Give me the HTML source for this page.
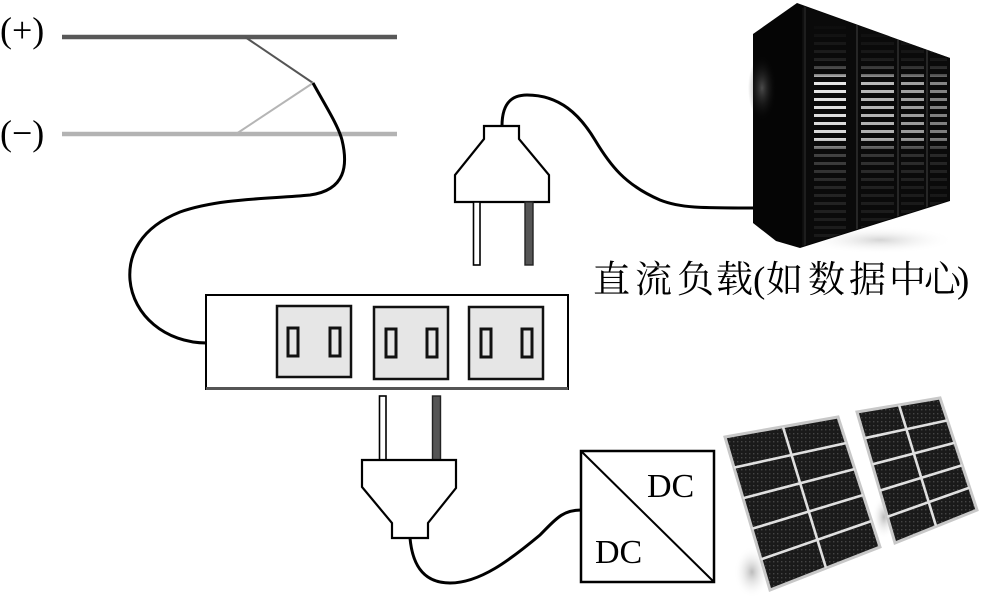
<!DOCTYPE html>
<html>
<head>
<meta charset="utf-8">
<style>
html,body{margin:0;padding:0;background:#fff;}
svg{display:block;}
</style>
</head>
<body>
<svg width="1000" height="610" viewBox="0 0 1000 610" xmlns="http://www.w3.org/2000/svg">
  <defs>
    <pattern id="sp" patternUnits="userSpaceOnUse" width="60" height="8" y="2">
      <rect x="0" y="0" width="60" height="3" fill="#fff"/>
    </pattern>
    <linearGradient id="vg" x1="0" y1="0" x2="0" y2="1">
      <stop offset="0" stop-color="#000"/>
      <stop offset="0.18" stop-color="#1a1a1a"/>
      <stop offset="0.24" stop-color="#666"/>
      <stop offset="0.27" stop-color="#fff"/>
      <stop offset="0.54" stop-color="#eee"/>
      <stop offset="0.6" stop-color="#444"/>
      <stop offset="0.75" stop-color="#222"/>
      <stop offset="1" stop-color="#111"/>
    </linearGradient>
    <mask id="m" maskUnits="userSpaceOnUse" x="700" y="0" width="300" height="260">
      <rect x="700" y="20" width="300" height="220" fill="url(#vg)"/>
    </mask>
    <clipPath id="front">
      <polygon points="803,6 950,58 950,200 803,246"/>
    </clipPath>
    <radialGradient id="sideHi" cx="0.5" cy="0.5" r="0.5">
      <stop offset="0" stop-color="#7a7a7a"/>
      <stop offset="1" stop-color="#111" stop-opacity="0"/>
    </radialGradient>
    <radialGradient id="shadow" cx="0.5" cy="0.5" r="0.5">
      <stop offset="0" stop-color="#aaa"/>
      <stop offset="1" stop-color="#fff" stop-opacity="0"/>
    </radialGradient>
    <pattern id="dots" patternUnits="userSpaceOnUse" width="4" height="4">
      <rect width="4" height="4" fill="#1a1a1a"/>
      <rect x="1" y="1" width="1.4" height="1.4" fill="#444"/>
    </pattern>
  </defs>

  <!-- Bus lines -->
  <text x="0" y="42" font-family="Liberation Serif, serif" font-size="36" fill="#000">(+)</text>
  <text x="0" y="145" font-family="Liberation Serif, serif" font-size="36" fill="#000">(−)</text>
  <line x1="62" y1="37" x2="397" y2="37" stroke="#585858" stroke-width="4.5"/>
  <line x1="62" y1="134" x2="397" y2="134" stroke="#b3b3b3" stroke-width="4.5"/>
  <line x1="245" y1="37" x2="313" y2="83" stroke="#555" stroke-width="2"/>
  <line x1="236" y1="134" x2="313" y2="83" stroke="#b5b5b5" stroke-width="2"/>

  <!-- main cable from bus to strip -->
  <path d="M313,83 C325,105 338,125 342,140 C348,165 346,190 310,195 C270,199 220,198 180,212 C140,228 128,255 130,280 C133,315 165,343 207,343" fill="none" stroke="#000" stroke-width="3"/>

  <!-- Power strip -->
  <rect x="206" y="295" width="362" height="94" fill="#fff" stroke="#000" stroke-width="2"/>
  <line x1="206" y1="388.5" x2="568" y2="388.5" stroke="#555" stroke-width="3"/>
  <g fill="#e6e6e6" stroke="#111" stroke-width="2.5">
    <rect x="277" y="306" width="74" height="71"/>
    <rect x="374" y="307" width="74" height="72"/>
    <rect x="469" y="307" width="74" height="72"/>
  </g>
  <g fill="#e6e6e6" stroke="#111" stroke-width="3">
    <rect x="288" y="328" width="10" height="28"/>
    <rect x="330" y="328" width="10" height="28"/>
    <rect x="386" y="329" width="10" height="28"/>
    <rect x="427" y="329" width="10" height="28"/>
    <rect x="481" y="329" width="10" height="28"/>
    <rect x="522" y="329" width="10" height="28"/>
  </g>

  <!-- Lower plug -->
  <rect x="379.5" y="396" width="6.5" height="65" fill="#fff" stroke="#000" stroke-width="1.6"/>
  <rect x="432.5" y="396" width="8" height="65" fill="#555" stroke="#222" stroke-width="1.4"/>
  <polygon points="362,460 456,460 456,488 428,523 428,538 392,538 392,523 362,487" fill="#fff" stroke="#000" stroke-width="2.2"/>
  <path d="M410,538 C412,560 420,583 450,583 C480,583 510,560 540,535 C555,520 562,510 581,510" fill="none" stroke="#000" stroke-width="3"/>

  <!-- DC/DC converter -->
  <rect x="581" y="451" width="133" height="131" fill="#fff" stroke="#000" stroke-width="2.5"/>
  <line x1="581" y1="451" x2="714" y2="582" stroke="#000" stroke-width="2"/>
  <text x="647" y="497" font-family="Liberation Serif, serif" font-size="34" fill="#000">DC</text>
  <text x="595" y="563" font-family="Liberation Serif, serif" font-size="34" fill="#000">DC</text>

  <!-- Upper plug -->
  <path d="M502,126 C502,105 510,95 527,95 C560,95 580,115 595,140 C610,165 625,185 660,200 C680,208 700,208 755,208" fill="none" stroke="#000" stroke-width="3"/>
  <polygon points="484,126 519,126 519,139 549,175 549,202 455,202 455,175 484,139" fill="#fff" stroke="#000" stroke-width="2.2"/>
  <rect x="473.5" y="202" width="6.5" height="63" fill="#fff" stroke="#000" stroke-width="1.6"/>
  <rect x="525" y="202" width="8" height="63" fill="#555" stroke="#222" stroke-width="1.4"/>

  <!-- Server -->
  <ellipse cx="880" cy="240" rx="75" ry="14" fill="url(#shadow)" opacity="0.5"/>
  <polygon points="753,34 797,3 950,58 950,201 800,248 776,241 753,223" fill="#050505"/>
  <ellipse cx="762" cy="88" rx="14" ry="32" fill="url(#sideHi)" opacity="0.6"/>
  <g clip-path="url(#front)">
    <rect x="803" y="0" width="150" height="250" fill="#0a0a0a"/>
    <line x1="857" y1="0" x2="857" y2="250" stroke="#262626" stroke-width="2"/>
    <line x1="898" y1="0" x2="898" y2="250" stroke="#262626" stroke-width="2"/>
    <line x1="927" y1="0" x2="927" y2="250" stroke="#262626" stroke-width="2"/>
    <line x1="805" y1="0" x2="805" y2="250" stroke="#1e1e1e" stroke-width="2"/>
    <g mask="url(#m)">
      <rect x="814" y="20" width="32" height="220" fill="url(#sp)" opacity="0.9"/>
      <rect x="861" y="12" width="33" height="228" fill="url(#sp)" opacity="0.72"/>
      <rect x="901" y="20" width="23" height="220" fill="url(#sp)" opacity="0.62"/>
      <rect x="930" y="30" width="17" height="210" fill="url(#sp)" opacity="0.5"/>
    </g>
  </g>
  <line x1="803" y1="8" x2="803" y2="246" stroke="#151515" stroke-width="1"/>

  <!-- Label -->
  <text y="292" font-family="Liberation Serif, 'Noto Serif CJK SC', serif" font-size="37" fill="#000"><tspan x="593">直</tspan><tspan x="635">流</tspan><tspan x="677">负</tspan><tspan x="716">载</tspan><tspan x="753" font-family="Liberation Serif, serif">(</tspan><tspan x="766">如</tspan><tspan x="808">数</tspan><tspan x="849">据</tspan><tspan x="889">中</tspan><tspan x="924">心</tspan><tspan x="957" font-family="Liberation Serif, serif">)</tspan></text>

  <!-- Solar panel stands -->
  <ellipse cx="752" cy="572" rx="18" ry="26" fill="url(#shadow)" opacity="0.8"/>
  <ellipse cx="884" cy="517" rx="12" ry="22" fill="url(#shadow)" opacity="0.8"/>

  <!-- Solar panel 1 -->
  <polygon points="725,437 838,417 880,547 770,590" fill="url(#dots)" stroke="#c8c8c8" stroke-width="3"/>
  <g stroke="#e0e0e0" stroke-width="2.6">
    <line x1="734" y1="467.6" x2="846.4" y2="443"/>
    <line x1="743" y1="498.2" x2="854.8" y2="469"/>
    <line x1="752" y1="528.8" x2="863.2" y2="495"/>
    <line x1="761" y1="559.4" x2="871.6" y2="521"/>
    <line x1="783" y1="427" x2="826" y2="568"/>
  </g>

  <!-- Solar panel 2 -->
  <polygon points="857,412 940,398 977,510 895,543" fill="url(#dots)" stroke="#c8c8c8" stroke-width="3"/>
  <g stroke="#e0e0e0" stroke-width="2.6">
    <line x1="864.6" y1="438.2" x2="947.4" y2="420.4"/>
    <line x1="872.2" y1="464.4" x2="954.8" y2="442.8"/>
    <line x1="879.8" y1="490.6" x2="962.2" y2="465.2"/>
    <line x1="887.4" y1="516.8" x2="969.6" y2="487.6"/>
    <line x1="899" y1="405" x2="936" y2="526"/>
  </g>
</svg>
</body>
</html>
